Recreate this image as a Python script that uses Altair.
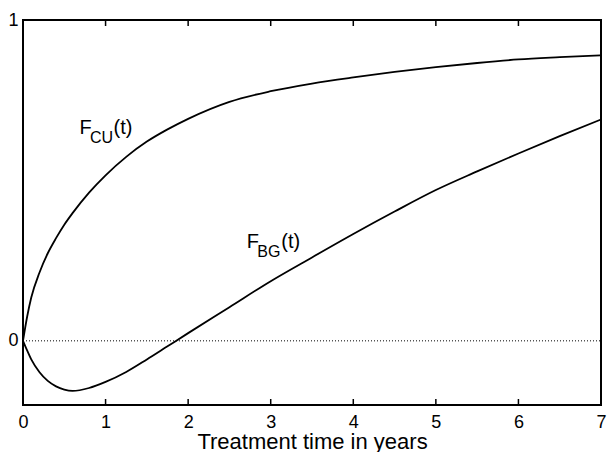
import altair as alt
import pandas as pd

# ---- data ----
t = [0, 0.05, 0.1, 0.2, 0.3, 0.4, 0.5, 0.6, 0.8, 1.0, 1.25, 1.5, 1.75, 2.0,
     2.5, 3.0, 3.5, 4.0, 4.5, 5.0, 5.5, 6.0, 6.5, 7.0]
f_cu = [0, 0.075, 0.135, 0.213, 0.273, 0.32, 0.362, 0.398, 0.462, 0.516, 0.5735,
        0.621, 0.659, 0.692, 0.745, 0.778, 0.802, 0.821, 0.838, 0.853, 0.866,
        0.877, 0.884, 0.89]
f_bg = [0, -0.03, -0.058, -0.098, -0.125, -0.142, -0.152, -0.156, -0.147,
        -0.128, -0.097, -0.058, -0.017, 0.024, 0.105, 0.186, 0.260, 0.333,
        0.403, 0.47, 0.528, 0.584, 0.638, 0.69]
x_ticks = [0, 1, 2, 3, 4, 5, 6, 7]
y_ticks = [0, 1]
x_title = "Treatment time in years"

# label anchors (t, value) for the "F" of each curve label
label_cu = {"t": [0.685], "v": [0.645]}
label_bg = {"t": [2.71], "v": [0.289]}

df = pd.DataFrame({
    "t": t + t,
    "v": f_cu + f_bg,
    "series": ["CU"] * len(t) + ["BG"] * len(t),
})
zero_df = pd.DataFrame({"t": [0, 7], "v": [0, 0]})
tick_df = pd.DataFrame({"t": x_ticks})

W, H = 578, 385
FONT = "Liberation Sans"

xs = alt.Scale(domain=[0, 7], nice=False, zero=False)
ys = alt.Scale(domain=[-0.2, 1], nice=False, zero=False)

xaxis = alt.Axis(values=x_ticks, format="d", title=x_title, grid=False,
                 ticks=False, domain=False, tickSize=0, labelPadding=8,
                 labelFlush=False, labelOverlap=False,
                 labelFontSize=18, labelFont=FONT, labelColor="black",
                 titleFont=FONT, titleFontSize=22, titleFontWeight="normal",
                 titleColor="black", titleBaseline="alphabetic", titleY=43)
yaxis = alt.Axis(values=y_ticks, format="d", title=None, grid=False,
                 ticks=False, domain=False, tickSize=0, labelPadding=5,
                 labelFlush=False, labelOverlap=False,
                 labelFontSize=18, labelFont=FONT, labelColor="black")


def X():
    return alt.X("t:Q", scale=xs, axis=xaxis)


def Y():
    return alt.Y("v:Q", scale=ys, axis=yaxis)


curves = alt.Chart(df).mark_line(color="black", strokeWidth=1.8,
                                 interpolate="monotone").encode(
    x=X(), y=Y(), detail="series:N")

zero = alt.Chart(zero_df).mark_line(color="black", strokeWidth=1,
                                    strokeDash=[1, 2]).encode(x=X(), y=Y())

ticks_bottom = alt.Chart(tick_df).mark_rule(color="black", strokeWidth=1.5).encode(
    x=X(), y=alt.value(H), y2=alt.value(H - 6))
ticks_top = alt.Chart(tick_df).mark_rule(color="black", strokeWidth=1.5).encode(
    x=X(), y=alt.value(0), y2=alt.value(6))


def label(anchor, sub, paren_dx):
    d = pd.DataFrame(anchor)
    base = alt.Chart(d)
    f = base.mark_text(text="F", align="left", baseline="alphabetic",
                       fontSize=20, font=FONT, color="black").encode(x=X(), y=Y())
    s = base.mark_text(text=sub, align="left", baseline="alphabetic", dx=10.5,
                       dy=9, fontSize=16, font=FONT, color="black").encode(x=X(), y=Y())
    p = base.mark_text(text="(t)", align="left", baseline="alphabetic",
                       dx=paren_dx, fontSize=20, font=FONT,
                       color="black").encode(x=X(), y=Y())
    return f + s + p


chart = alt.layer(
    zero, curves, ticks_bottom, ticks_top,
    label(label_cu, "CU", 34), label(label_bg, "BG", 34.5),
).properties(
    width=W, height=H,
    background="white",
    autosize=alt.AutoSizeParams(type="none"),
    padding={"left": 23, "top": 20, "right": 7, "bottom": 47},
).configure_view(stroke="black", strokeWidth=2)

chart.save("out.html", embed_options={"renderer": "svg", "actions": False})
